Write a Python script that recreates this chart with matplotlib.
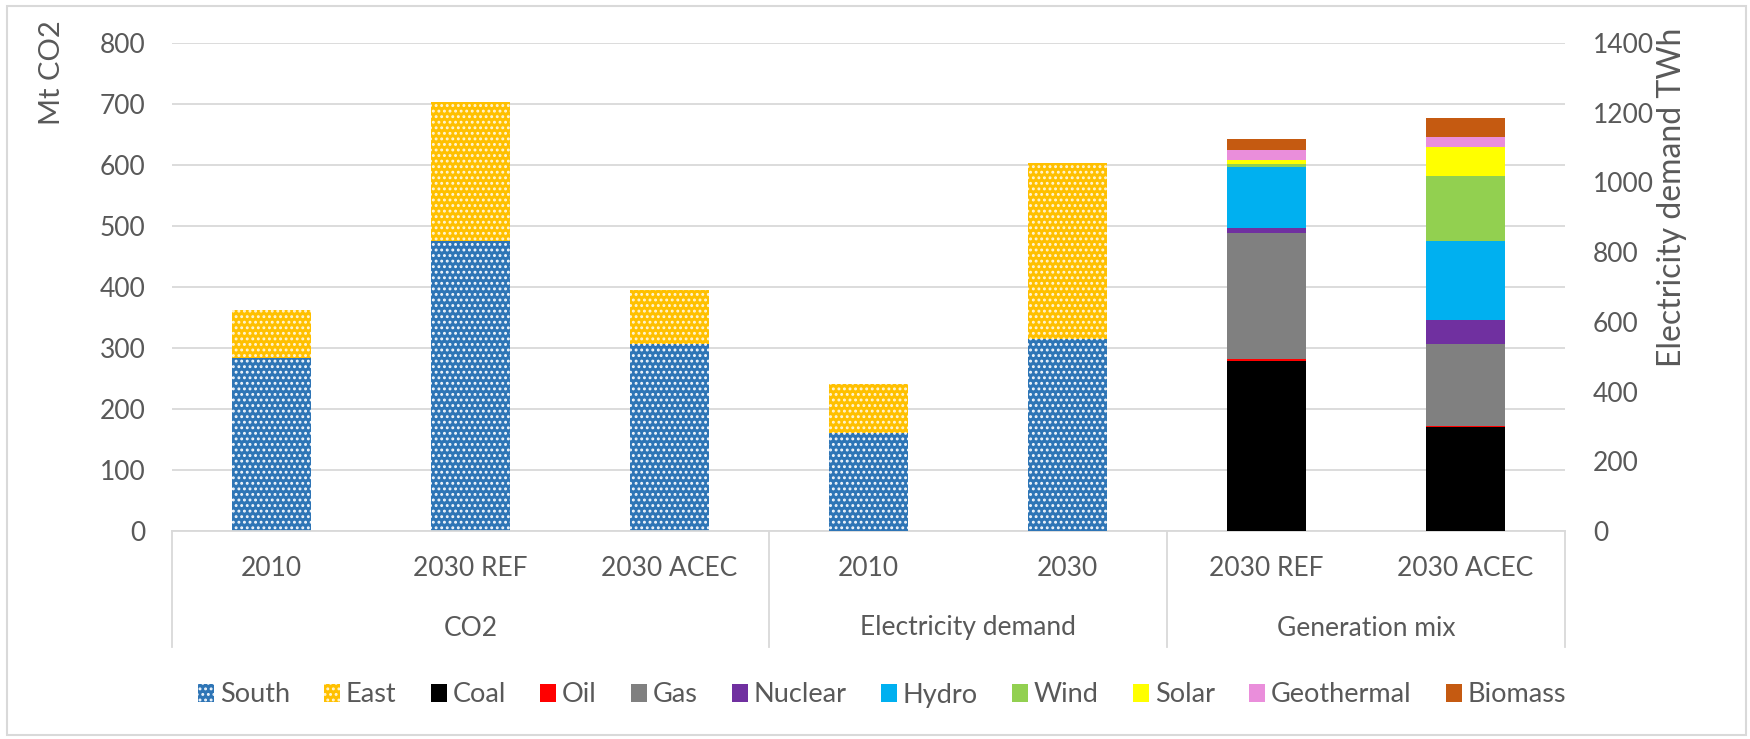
import matplotlib
matplotlib.use("Agg")
import matplotlib.pyplot as plt
import matplotlib.transforms as mtransforms
from matplotlib.patches import Rectangle
import numpy as np

# ---------------- data ----------------
categories = ['2010', '2030 REF', '2030 ACEC', '2010', '2030', '2030 REF', '2030 ACEC']
groups = ['CO2', 'Electricity demand', 'Generation mix']
group_spans = [(0, 3), (3, 5), (5, 7)]

co2_south = [284, 476, 307]      # Mt CO2
co2_east = [78, 228, 88]

demand_south = [280, 550]        # TWh
demand_east = [142, 505]

sources = ['Coal', 'Oil', 'Gas', 'Nuclear', 'Hydro', 'Wind', 'Solar', 'Geothermal', 'Biomass']
gen_ref = [487, 6, 363, 12, 177, 7, 12, 29, 33]      # TWh
gen_acec = [297, 5, 234, 69, 228, 186, 83, 29, 53]   # TWh

left_ticks = [0, 100, 200, 300, 400, 500, 600, 700, 800]
right_ticks = [0, 200, 400, 600, 800, 1000, 1200, 1400]

# ---------------- style ----------------
FONT = 'Lato'
TXT = '#595959'
GRID = '#D9D9D9'
col_south = '#2E75B6'
col_east = '#FFC000'
src_colors = ['#000000', '#FF0000', '#808080', '#7030A0', '#00B0F0',
              '#92D050', '#FFFF00', '#EA8EDB', '#C55A11']

plt.rcParams['font.family'] = [FONT, 'DejaVu Sans']
plt.rcParams['hatch.linewidth'] = 1.3

W, H = 1750, 739
fig = plt.figure(figsize=(W / 100, H / 100), dpi=100)
L, R, T, B = 172, 1565, 43, 531
ax = fig.add_axes([L / W, 1 - B / H, (R - L) / W, (B - T) / H])
ax2 = ax.twinx()

bw = 0.40
x_co2 = np.arange(0, 3)
x_dem = np.arange(3, 5)
x_gen = np.arange(5, 7)
HATCH = '...'

# CO2 bars (left axis)
h_south = ax.bar(x_co2, co2_south, bw, color=col_south, edgecolor='#F2F7FC',
                 linewidth=0, hatch=HATCH, label='South', zorder=2)
h_east = ax.bar(x_co2, co2_east, bw, bottom=co2_south, color=col_east,
                edgecolor='#FFF5D6', linewidth=0, hatch=HATCH, label='East', zorder=2)

# Electricity demand bars (right axis)
ax2.bar(x_dem, demand_south, bw, color=col_south, edgecolor='#F2F7FC',
        linewidth=0, hatch=HATCH, zorder=2)
ax2.bar(x_dem, demand_east, bw, bottom=demand_south, color=col_east,
        edgecolor='#FFF5D6', linewidth=0, hatch=HATCH, zorder=2)

# Generation mix (right axis)
src_handles = []
bottom = np.zeros(2)
for name, c, r, a in zip(sources, src_colors, gen_ref, gen_acec):
    vals = np.array([r, a], dtype=float)
    h = ax2.bar(x_gen, vals, bw, bottom=bottom, color=c, linewidth=0,
                label=name, zorder=2)
    src_handles.append(h)
    bottom += vals

# axes
ax.set_xlim(-0.5, 6.5)
ax.set_ylim(0, 800)
ax2.set_ylim(0, 1400)
ax.set_yticks(left_ticks)
ax2.set_yticks(right_ticks)
ax.yaxis.grid(True, color=GRID, linewidth=1.3)
ax.set_axisbelow(True)
for a in (ax, ax2):
    for s in ('top', 'left', 'right', 'bottom'):
        a.spines[s].set_visible(False)
    a.tick_params(axis='y', length=0, labelsize=19, labelcolor=TXT)
ax.tick_params(axis='y', pad=19)
ax2.tick_params(axis='y', pad=20)
ax.set_xticks([])

# category axis
trans = mtransforms.blended_transform_factory(ax.transData, ax.transAxes)
hh = (B - T)
ax.plot([-0.5, 6.5], [0, 0], transform=trans, color=GRID, lw=1.3, clip_on=False, zorder=3)
for xb in (-0.5, 2.5, 4.5, 6.5):
    ax.plot([xb, xb], [0, -(647 - B) / hh], transform=trans, color=GRID, lw=1.3,
            clip_on=False)
for i, c in enumerate(categories):
    ax.text(i, -(569 - B) / hh, c, transform=trans, ha='center', va='center',
            fontsize=19, color=TXT)
for g, (a0, a1) in zip(groups, group_spans):
    ax.text((a0 + a1 - 1) / 2, -(628 - B) / hh, g, transform=trans, ha='center',
            va='center', fontsize=19, color=TXT)

# axis titles
fig.text(52 / W, 1 - 20 / H, 'Mt CO2', rotation=90, ha='center', va='top',
         fontsize=21, color=TXT)
fig.text(1672 / W, 1 - 28 / H, 'Electricity demand TWh', rotation=90, ha='center',
         va='top', fontsize=23, color=TXT)

# legend
handles = [h_south, h_east] + src_handles
labels = ['South', 'East'] + sources
leg = fig.legend(handles, labels, loc='center', bbox_to_anchor=(882 / W, 1 - 695 / H),
                 ncol=len(labels), frameon=False, fontsize=19.5, handlelength=0.6,
                 handleheight=0.6, handletextpad=0.2, columnspacing=1.27,
                 labelcolor=TXT)

# chart border
fig.patches.append(Rectangle((7 / W, 4 / H), (1746 - 7) / W, (733 - 4) / H,
                             transform=fig.transFigure, fill=False,
                             edgecolor=GRID, linewidth=1.5))

fig.savefig('out.png', dpi=100)
